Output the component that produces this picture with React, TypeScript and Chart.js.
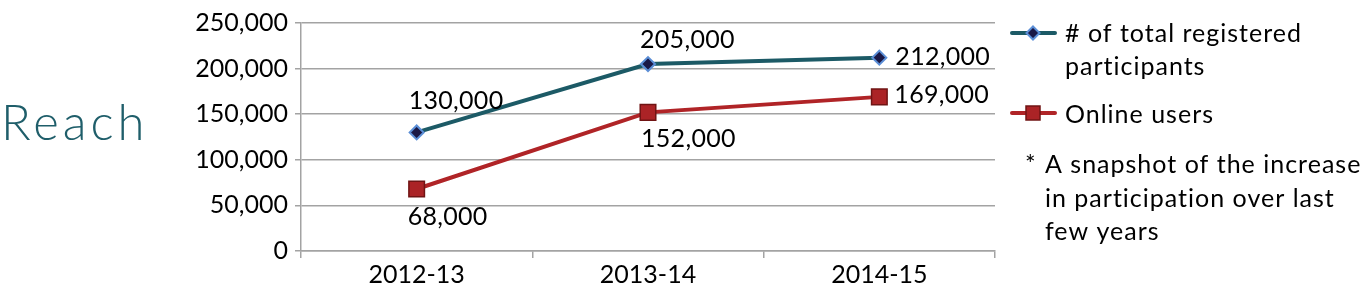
import React, { useEffect, useRef } from "react";
import { Chart, registerables } from "chart.js";

Chart.register(...registerables);

const categories: string[] = ["2012-13", "2013-14", "2014-15"];
const totalRegistered: number[] = [130000, 205000, 212000];
const onlineUsers: number[] = [68000, 152000, 169000];
const seriesNames: string[] = ["# of total registered", "participants"];
const onlineName = "Online users";
const noteLines: string[] = ["A snapshot of the increase", "in participation over last", "few years"];
const sideTitle = "Reach";

const FONT = "Lato, Carlito, 'Liberation Sans', sans-serif";
const TEAL = "#1c5a66";
const RED = "#b02427";
const GRID = "#a3a3a3";

// label placement relative to the point: [dx to text left, dy to baseline]
const labelPlacement: [number, number][][] = [
  [[-8, -23], [-8, -16], [16, 7]],
  [[-9, 36], [-7, 35], [15, 6]],
];

const fmt = (v: number) => v.toLocaleString("en-US");

const overlayPlugin = {
  id: "overlay",
  afterDatasetsDraw(chart: any) {
    const ctx: any = chart.ctx;
    ctx.save();
    // data labels
    ctx.font = `25px ${FONT}`;
    ctx.letterSpacing = "0.3px";
    ctx.fillStyle = "#000";
    ctx.textAlign = "left";
    ctx.textBaseline = "alphabetic";
    chart.data.datasets.forEach((ds: any, di: number) => {
      const meta = chart.getDatasetMeta(di);
      meta.data.forEach((pt: any, i: number) => {
        const [dx, dy] = labelPlacement[di][i];
        ctx.fillText(fmt(ds.data[i]), pt.x + dx, pt.y + dy);
      });
    });

    // side title
    ctx.font = `300 49px ${FONT}`;
    ctx.letterSpacing = "4px";
    ctx.fillStyle = "#1f5e6a";
    ctx.fillText(sideTitle, 1, 140);

    // legend
    const lx0 = 1012, lx1 = 1055, mx = 1033;
    ctx.lineCap = "round";
    // entry 1
    ctx.strokeStyle = TEAL;
    ctx.lineWidth = 4;
    ctx.beginPath();
    ctx.moveTo(lx0, 33);
    ctx.lineTo(lx1, 33);
    ctx.stroke();
    ctx.beginPath();
    ctx.moveTo(mx, 33 - 6.5);
    ctx.lineTo(mx + 6.5, 33);
    ctx.lineTo(mx, 33 + 6.5);
    ctx.lineTo(mx - 6.5, 33);
    ctx.closePath();
    ctx.fillStyle = "#1a1846";
    ctx.fill();
    ctx.strokeStyle = "#5b8ed6";
    ctx.lineWidth = 2;
    ctx.stroke();
    // entry 2
    ctx.strokeStyle = RED;
    ctx.lineWidth = 4;
    ctx.beginPath();
    ctx.moveTo(lx0, 113);
    ctx.lineTo(lx1, 113);
    ctx.stroke();
    ctx.fillStyle = "#ab2326";
    ctx.fillRect(mx - 7, 113 - 7, 14, 14);
    ctx.strokeStyle = "#701414";
    ctx.lineWidth = 1.5;
    ctx.strokeRect(mx - 7, 113 - 7, 14, 14);

    ctx.font = `25px ${FONT}`;
    ctx.letterSpacing = "1px";
    ctx.fillStyle = "#000";
    ctx.fillText(seriesNames[0], 1065, 42);
    ctx.fillText(seriesNames[1], 1065, 75);
    ctx.fillText(onlineName, 1065, 123);
    ctx.fillText("*", 1025, 173);
    noteLines.forEach((t, i) => ctx.fillText(t, 1045, 173 + i * 33.5));
    ctx.restore();
  },
};

export default function App() {
  const ref = useRef<HTMLCanvasElement>(null);
  useEffect(() => {
    if (!ref.current) return;
    const chart = new Chart(ref.current, {
      type: "line",
      data: {
        labels: categories,
        datasets: [
          {
            label: seriesNames.join(" "),
            data: totalRegistered,
            borderColor: TEAL,
            borderWidth: 4,
            pointStyle: "rectRot",
            pointRadius: 7,
            pointBackgroundColor: "#1a1846",
            pointBorderColor: "#5b8ed6",
            pointBorderWidth: 2,
            tension: 0,
          },
          {
            label: onlineName,
            data: onlineUsers,
            borderColor: RED,
            borderWidth: 4,
            pointStyle: "rect",
            pointRadius: 11,
            pointBackgroundColor: "#ab2326",
            pointBorderColor: "#701414",
            pointBorderWidth: 1.5,
            tension: 0,
          },
        ],
      },
      options: {
        animation: false,
        responsive: false,
        events: [],
        layout: { padding: { left: 0, right: 371, top: 23, bottom: 0 } },
        plugins: { legend: { display: false }, tooltip: { enabled: false } },
        scales: {
          x: {
            type: "category",
            offset: true,
            grid: {
              offset: true,
              drawOnChartArea: false,
              drawTicks: true,
              tickLength: 7,
              color: GRID,
              lineWidth: 1.5,
            },
            border: { display: true, color: GRID, width: 1.5 },
            ticks: { font: { family: FONT, size: 25 }, color: "#000", padding: 2 },
            afterFit: (s: any) => {
              s.height = 54;
            },
          },
          y: {
            min: 0,
            max: 250000,
            ticks: {
              stepSize: 50000,
              callback: (v: any) => fmt(Number(v)),
              font: { family: FONT, size: 25 },
              color: "#000",
              padding: 7,
            },
            grid: { color: GRID, lineWidth: 1.5, tickLength: 6 },
            border: { display: true, color: GRID, width: 1.5 },
            afterFit: (s: any) => {
              s.width = 301;
            },
          },
        },
      },
      plugins: [overlayPlugin],
    });
    return () => chart.destroy();
  }, []);
  return (
    <div style={{ position: "absolute", left: 0, top: 0, width: 1366, height: 305, background: "#fff" }}>
      <canvas ref={ref} width={1366} height={305} style={{ display: "block" }} />
    </div>
  );
}
